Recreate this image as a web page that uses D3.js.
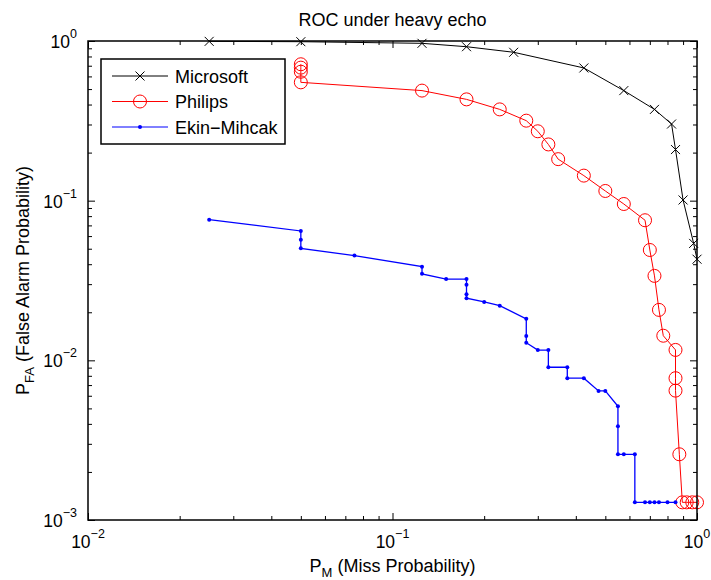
<!DOCTYPE html>
<html>
<head>
<meta charset="utf-8">
<script src="https://cdn.jsdelivr.net/npm/d3@7"></script>
<style>
  body { margin: 0; background: #fff; }
  svg { font-family: "Liberation Sans", Arial, sans-serif; }
</style>
</head>
<body>
<div id="roc-chart"></div>
<script>
// series (P_M, P_FA)
var msX = [0.025, 0.05, 0.125, 0.175, 0.25, 0.425, 0.575, 0.725, 0.825, 0.85, 0.9, 0.975, 1.0];
var msY = [0.995, 0.99, 0.967, 0.921, 0.85, 0.678, 0.489, 0.373, 0.302, 0.209, 0.101, 0.054, 0.043];

var phX = [0.05, 0.05, 0.05, 0.05, 0.125, 0.175, 0.225, 0.275, 0.3, 0.325, 0.35, 0.425, 0.5, 0.575,
           0.675, 0.7, 0.725, 0.75, 0.775, 0.85, 0.85, 0.85, 0.875, 0.895, 0.925, 0.965, 1.0];
var phY = [0.715, 0.681, 0.642, 0.551, 0.489, 0.431, 0.373, 0.317, 0.272, 0.225, 0.182, 0.1435, 0.115, 0.0953,
           0.0754, 0.0491, 0.0338, 0.0207, 0.01426, 0.01162, 0.00773, 0.00646, 0.00258, 0.00129, 0.00129, 0.00129, 0.00129];

var emX = [0.025, 0.05, 0.05, 0.05, 0.075, 0.125, 0.125, 0.15, 0.175, 0.175, 0.175, 0.175, 0.2, 0.225,
           0.275, 0.275, 0.275, 0.3, 0.325, 0.325, 0.375, 0.375, 0.425, 0.475, 0.5, 0.55, 0.55, 0.55,
           0.575, 0.625, 0.625, 0.675, 0.7, 0.725, 0.75, 0.8, 0.85];
var emY = [0.076, 0.0646, 0.057, 0.0503, 0.0453, 0.0386, 0.0348, 0.0323, 0.0323, 0.0297, 0.0259, 0.0245, 0.0232, 0.022,
           0.0182, 0.0142, 0.0129, 0.0116, 0.0116, 0.00905, 0.00905, 0.00773, 0.00773, 0.00643, 0.00643, 0.00516, 0.00387, 0.00258,
           0.00258, 0.00258, 0.00129, 0.00129, 0.00129, 0.00129, 0.00129, 0.00129, 0.00129];

var seriesNames = ['Microsoft', 'Philips', 'Ekin\u2212Mihcak'];
var xMajor = [0.01, 0.1, 1];
var yMajor = [0.001, 0.01, 0.1, 1];
var xTickExp = ['\u22122', '\u22121', '0'];
var yTickExp = ['\u22123', '\u22122', '\u22121', '0'];

var width = 711;
var height = 580;
var plotL = 88, plotR = 697, plotT = 41, plotB = 520;

var x = d3.scaleLog().domain([0.01, 1]).range([plotL, plotR]);
var y = d3.scaleLog().domain([0.001, 1]).range([plotB, plotT]);

// minor ticks 2..9 in each decade
function minors(lo, hi) {
  var out = [];
  for (var p = lo; p < hi; p++) {
    for (var k = 2; k <= 9; k++) out.push(k * Math.pow(10, p));
  }
  return out;
}

var svg = d3.select('#roc-chart')
  .append('svg')
  .attr('width', width)
  .attr('height', height);

// ticks, inward, on all four sides
function tickAxis(axisFn, scale, vals, size, tr) {
  var g = svg.append('g')
    .attr('transform', tr)
    .call(axisFn(scale).tickValues(vals).tickSize(-size).tickSizeOuter(0).tickFormat(''));
  g.select('.domain').remove();
  g.selectAll('line').attr('stroke', '#000').attr('stroke-width', 1);
  return g;
}
tickAxis(d3.axisBottom, x, xMajor, 7, 'translate(0,' + plotB + ')');
tickAxis(d3.axisBottom, x, minors(-2, 0), 4, 'translate(0,' + plotB + ')');
tickAxis(d3.axisTop, x, xMajor, 7, 'translate(0,' + plotT + ')');
tickAxis(d3.axisTop, x, minors(-2, 0), 4, 'translate(0,' + plotT + ')');
tickAxis(d3.axisLeft, y, yMajor, 7, 'translate(' + plotL + ',0)');
tickAxis(d3.axisLeft, y, minors(-3, 0), 4, 'translate(' + plotL + ',0)');
tickAxis(d3.axisRight, y, yMajor, 7, 'translate(' + plotR + ',0)');
tickAxis(d3.axisRight, y, minors(-3, 0), 4, 'translate(' + plotR + ',0)');

// tick labels 10^n
xMajor.forEach(function(v, i) {
  var t = svg.append('text')
    .attr('x', x(v))
    .attr('y', 548)
    .attr('text-anchor', 'middle')
    .style('font-size', '17.5px');
  t.append('tspan').text('10');
  t.append('tspan').attr('dy', -10).style('font-size', '12.5px').text(xTickExp[i]);
});
yMajor.forEach(function(v, i) {
  var t = svg.append('text')
    .attr('x', 77)
    .attr('y', y(v) + 7)
    .attr('text-anchor', 'end')
    .style('font-size', '17.5px');
  t.append('tspan').text('10');
  t.append('tspan').attr('dy', -10).style('font-size', '12.5px').text(yTickExp[i]);
});

// lines + markers
var line = d3.line()
  .x(function(d) { return x(d[0]); })
  .y(function(d) { return y(d[1]); });

var plot = svg.append('g');

var msData = d3.zip(msX, msY);
var phData = d3.zip(phX, phY);
var emData = d3.zip(emX, emY);

plot.append('path').datum(msData).attr('d', line)
  .attr('fill', 'none').attr('stroke', '#000').attr('stroke-width', 1);
plot.append('path').datum(phData).attr('d', line)
  .attr('fill', 'none').attr('stroke', '#f00').attr('stroke-width', 1);
plot.append('path').datum(emData).attr('d', line)
  .attr('fill', 'none').attr('stroke', '#00f').attr('stroke-width', 1.3);

function crossPath(s) {
  return 'M' + (-s) + ',' + (-s) + 'L' + s + ',' + s + 'M' + (-s) + ',' + s + 'L' + s + ',' + (-s);
}

plot.selectAll('.ms-mark').data(msData).enter()
  .append('path')
  .attr('class', 'ms-mark')
  .attr('transform', function(d) { return 'translate(' + x(d[0]) + ',' + y(d[1]) + ')'; })
  .attr('d', crossPath(4.5))
  .attr('stroke', '#000').attr('stroke-width', 1).attr('fill', 'none');

plot.selectAll('.ph-mark').data(phData).enter()
  .append('circle')
  .attr('class', 'ph-mark')
  .attr('cx', function(d) { return x(d[0]); })
  .attr('cy', function(d) { return y(d[1]); })
  .attr('r', 6.5)
  .attr('stroke', '#f00').attr('stroke-width', 1).attr('fill', 'none');

plot.selectAll('.em-mark').data(emData).enter()
  .append('circle')
  .attr('class', 'em-mark')
  .attr('cx', function(d) { return x(d[0]); })
  .attr('cy', function(d) { return y(d[1]); })
  .attr('r', 2)
  .attr('fill', '#00f');

// frame
svg.append('rect')
  .attr('x', plotL).attr('y', plotT)
  .attr('width', plotR - plotL).attr('height', plotB - plotT)
  .attr('fill', 'none').attr('stroke', '#000').attr('stroke-width', 1.5);

// title + axis labels
svg.append('text')
  .attr('x', (plotL + plotR) / 2).attr('y', 26)
  .attr('text-anchor', 'middle')
  .style('font-size', '18px')
  .text('ROC under heavy echo');

var xl = svg.append('text')
  .attr('x', (plotL + plotR) / 2).attr('y', 572)
  .attr('text-anchor', 'middle')
  .style('font-size', '18px');
xl.append('tspan').text('P');
xl.append('tspan').attr('dy', 5).style('font-size', '13px').text('M');
xl.append('tspan').attr('dy', -5).text(' (Miss Probability)');

var yl = svg.append('text')
  .attr('transform', 'translate(29,' + ((plotT + plotB) / 2) + ') rotate(-90)')
  .attr('text-anchor', 'middle')
  .style('font-size', '18px');
yl.append('tspan').text('P');
yl.append('tspan').attr('dy', 5).style('font-size', '13px').text('FA');
yl.append('tspan').attr('dy', -5).text(' (False Alarm Probability)');

// legend
var legend = svg.append('g');
legend.append('rect')
  .attr('x', 101).attr('y', 59)
  .attr('width', 184).attr('height', 85)
  .attr('fill', '#fff').attr('stroke', '#000').attr('stroke-width', 1.5);

var legendY = [76, 101.5, 127];
var legendColor = ['#000', '#f00', '#00f'];

seriesNames.forEach(function(name, i) {
  var ly = legendY[i];
  legend.append('line')
    .attr('x1', 112).attr('x2', 168).attr('y1', ly).attr('y2', ly)
    .attr('stroke', legendColor[i]).attr('stroke-width', 1);
  if (i === 0) {
    legend.append('path').attr('transform', 'translate(140,' + ly + ')')
      .attr('d', crossPath(4.5)).attr('stroke', '#000').attr('fill', 'none');
  } else if (i === 1) {
    legend.append('circle').attr('cx', 140).attr('cy', ly).attr('r', 6.5)
      .attr('stroke', '#f00').attr('fill', 'none');
  } else {
    legend.append('circle').attr('cx', 140).attr('cy', ly).attr('r', 2).attr('fill', '#00f');
  }
  legend.append('text')
    .attr('x', 175).attr('y', ly + 6.5)
    .style('font-size', '18px')
    .text(name);
});
</script>
</body>
</html>
